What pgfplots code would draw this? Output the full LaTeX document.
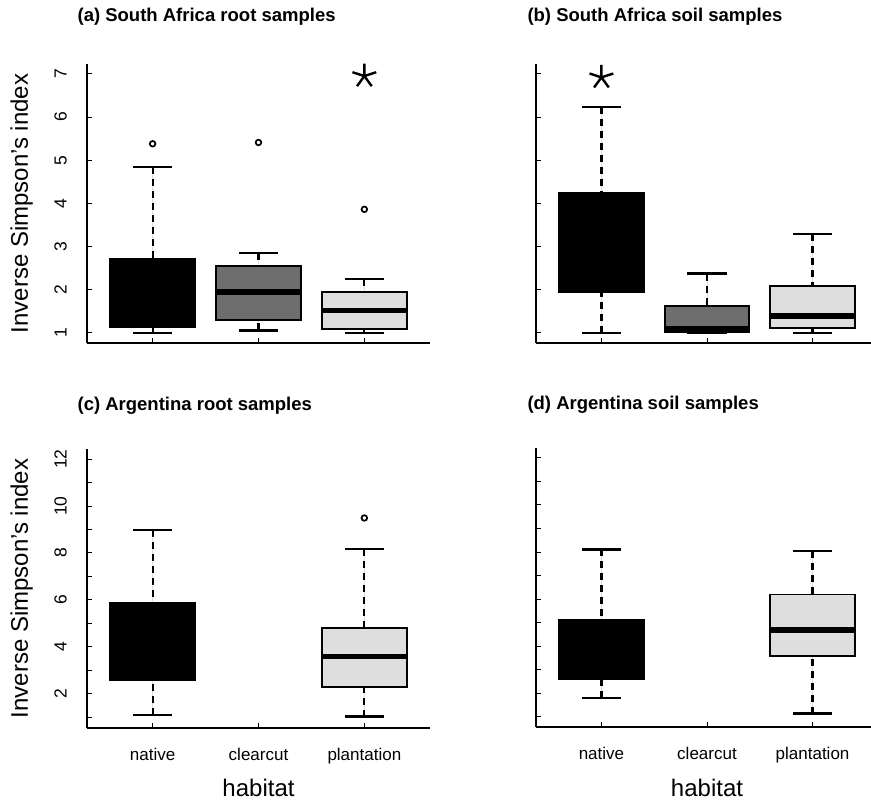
\documentclass[border=0pt]{standalone}
\usepackage{pgfplots}
\pgfplotsset{compat=1.18}
\usepgfplotslibrary{statistics}
\usepackage{fontspec}
\setmainfont{Liberation Sans}
\definecolor{cgray}{HTML}{6E6E6E}
\definecolor{pgray}{HTML}{DEDEDE}
\pgfplotsset{
  myaxis/.style={
    scale only axis, width=343pt, height=279pt,
    xmin=0.38, xmax=3.62,
    axis x line*=bottom, axis y line*=left,
    axis line style={-, line width=2.2pt, black},
    xtick={1,2,3}, xticklabels={},
    tick align=inside, major tick length=5pt, minor tick length=5pt,
    every tick/.style={black, line width=1pt},
    /pgf/number format/assume math mode=true,
    yticklabel style={font=\fontsize{17.5}{19}\selectfont, inner sep=0pt, xshift=-20.3pt, rotate=90, anchor=base},
    xticklabel style={font=\fontsize{17}{19}\selectfont, inner sep=0pt, anchor=base, yshift=-33pt},
    ylabel style={font=\fontsize{24}{26}\selectfont, inner sep=0pt, at={(axis description cs:-0.157,0.5)}, anchor=south},
    xlabel style={font=\fontsize{24}{26}\selectfont, inner sep=0pt, at={(axis description cs:0.5,0)}, anchor=base, yshift=-69pt},
    title style={font=\fontsize{18.5}{20}\selectfont\bfseries, inner sep=0pt, anchor=base west},
    clip=false,
    boxplot/draw direction=y,
    boxplot/box extend=0.8,
    boxplot/whisker extend=0.37,
    boxplot/every median/.style={line width=5.5pt},
    boxplot/every box/.style={line width=1.8pt},
    boxplot/draw/lower whisker/.code={%
      \draw[black, line width=2.2pt, dash pattern=on 7pt off 5pt]
        (boxplot box cs:\pgfplotsboxplotvalue{lower whisker},0.5) -- (boxplot box cs:\pgfplotsboxplotvalue{lower quartile},0.5);
      \draw[black, line width=2.2pt, solid]
        (boxplot whisker cs:\pgfplotsboxplotvalue{lower whisker},0) -- (boxplot whisker cs:\pgfplotsboxplotvalue{lower whisker},1);
    },
    boxplot/draw/upper whisker/.code={%
      \draw[black, line width=2.2pt, dash pattern=on 7pt off 5pt]
        (boxplot box cs:\pgfplotsboxplotvalue{upper whisker},0.5) -- (boxplot box cs:\pgfplotsboxplotvalue{upper quartile},0.5);
      \draw[black, line width=2.2pt, solid]
        (boxplot whisker cs:\pgfplotsboxplotvalue{upper whisker},0) -- (boxplot whisker cs:\pgfplotsboxplotvalue{upper whisker},1);
    },
  },
  bx/.style={draw=black, solid, mark=o, mark size=2.8pt, mark options={line width=1.7pt, solid, fill=none}},
  sig/.style={only marks, mark=star, mark size=12.5pt, mark options={line width=2.4pt, black}},
}
\begin{document}
\begin{tikzpicture}
\useasboundingbox (0pt,0pt) rectangle (871pt,801pt);
% (a)
\begin{axis}[myaxis, at={(87pt,458pt)}, ymin=0.76, ymax=7.23, ytick={1,...,7},
  ylabel={Inverse Simpson's index},
  title={(a) South Africa root samples}, title style={at={(axis description cs:-0.028,1.1326)}}]
\addplot[bx, fill=black, boxplot prepared={draw position=1, lower whisker=1.0, lower quartile=1.12, median=1.2, upper quartile=2.72, upper whisker=4.85}] coordinates {(1,5.38)};
\addplot[bx, fill=cgray, boxplot prepared={draw position=2, lower whisker=1.05, lower quartile=1.29, median=1.94, upper quartile=2.55, upper whisker=2.84}] coordinates {(2,5.41)};
\addplot[bx, fill=pgray, boxplot prepared={draw position=3, lower whisker=1.0, lower quartile=1.08, median=1.51, upper quartile=1.95, upper whisker=2.24}] coordinates {(3,3.86)};
\addplot[sig] coordinates {(3,6.95)};
\end{axis}
% (b)
\begin{axis}[myaxis, at={(536pt,458pt)}, width=342pt, ymin=0.76, ymax=7.23, ytick={1,...,7}, yticklabels={},
  title={(b) South Africa soil samples}, title style={at={(axis description cs:-0.0254,1.1326)}}]
\addplot[bx, fill=black, boxplot prepared={draw position=1, lower whisker=1.0, lower quartile=1.94, median=3.0, upper quartile=4.25, upper whisker=6.24}] coordinates {};
\addplot[bx, fill=cgray, boxplot prepared={draw position=2, lower whisker=1.0, lower quartile=1.02, median=1.1, upper quartile=1.62, upper whisker=2.37}] coordinates {};
\addplot[bx, fill=pgray, boxplot prepared={draw position=3, lower whisker=1.0, lower quartile=1.11, median=1.39, upper quartile=2.08, upper whisker=3.28}] coordinates {};
\addplot[sig] coordinates {(1,6.92)};
\end{axis}
% (c)
\begin{axis}[myaxis, at={(87pt,73pt)}, ymin=0.54, ymax=12.43, ytick={2,4,...,12}, minor ytick={1,3,...,11},
  xticklabels={native,clearcut,plantation},
  ylabel={Inverse Simpson's index}, xlabel={habitat},
  title={(c) Argentina root samples}, title style={at={(axis description cs:-0.028,1.1158)}}]
\addplot[bx, fill=black, boxplot prepared={draw position=1, lower whisker=1.08, lower quartile=2.6, median=4.0, upper quartile=5.86, upper whisker=8.98}] coordinates {};
\addplot[bx, fill=pgray, boxplot prepared={draw position=3, lower whisker=1.03, lower quartile=2.28, median=3.59, upper quartile=4.79, upper whisker=8.17}] coordinates {(3,9.49)};
\end{axis}
% (d)
\begin{axis}[myaxis, at={(536pt,74pt)}, width=342pt, ymin=0.57, ymax=12.42, ytick={1,...,12}, yticklabels={},
  xticklabels={native,clearcut,plantation},
  xlabel={habitat},
  title={(d) Argentina soil samples}, title style={at={(axis description cs:-0.0254,1.1158)}}]
\addplot[bx, fill=black, boxplot prepared={draw position=1, lower whisker=1.81, lower quartile=2.59, median=3.5, upper quartile=5.14, upper whisker=8.11}] coordinates {};
\addplot[bx, fill=pgray, boxplot prepared={draw position=3, lower whisker=1.14, lower quartile=3.59, median=4.68, upper quartile=6.2, upper whisker=8.03}] coordinates {};
\end{axis}
\end{tikzpicture}
\end{document}
